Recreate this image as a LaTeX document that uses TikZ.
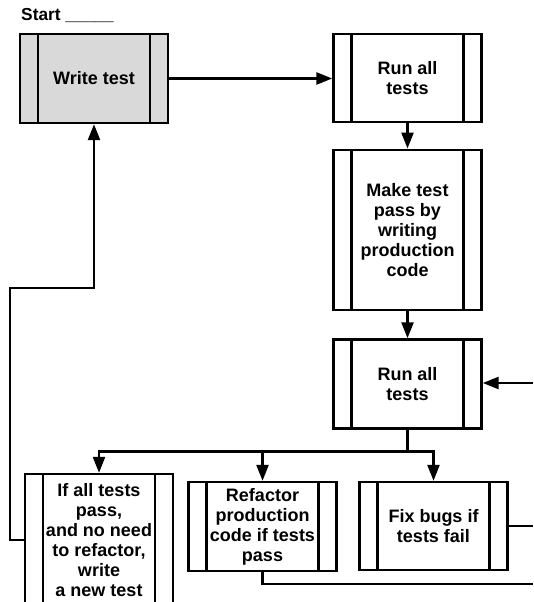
\documentclass[tikz,border=0pt]{standalone}
\usepackage{fontspec}
\setmainfont{Liberation Sans}
\usetikzlibrary{arrows.meta,positioning}

\begin{document}
\begin{tikzpicture}[x=0.75pt,y=-0.75pt,>={Triangle[length=12pt,width=9pt]},
                    line width=1.8pt]
  \tikzstyle{proc}=[draw=black,fill=white,align=center,minimum width=111pt,
                    inner sep=0pt,font=\bfseries\fontsize{13.5}{15}\selectfont,
                    path picture={
                      \draw[line width=1.8pt]
                        ([xshift=13.5pt]path picture bounding box.north west) --
                        ([xshift=13.5pt]path picture bounding box.south west)
                        ([xshift=-13.5pt]path picture bounding box.north east) --
                        ([xshift=-13.5pt]path picture bounding box.south east);}]

  \useasboundingbox (0,0) rectangle (533,602);
  \clip (0,0) rectangle (533,602);

  \node[anchor=west,inner sep=0pt,font=\bfseries\fontsize{13}{15}\selectfont]
                       (start)    at (20,16)        {Start \_\_\_\_\_};
  \node[proc,fill=gray!30,minimum height=66.75pt]
                       (write)    at (94,78.5)      {Write test};
  \node[proc,minimum height=66pt]
                       (run1)     at (407.5,78)     {Run all\\tests};
  \node[proc,minimum height=120pt]
                       (make)     [below=19pt of run1] {Make test\\pass by\\writing\\production\\code};
  \node[proc,minimum height=66.75pt]
                       (run2)     [below=20.5pt of make] {Run all\\tests};
  \node[proc,minimum height=99pt]
                       (allpass)  at (99,540)      {If all tests\\pass,\\and no need\\to refactor,\\write\\a new test};
  \node[proc,minimum height=66.75pt]
                       (refactor) at (262.5,526.5) {Refactor\\production\\code if tests\\pass};
  \node[proc,minimum height=66pt]
                       (fixbugs)  at (433.5,526)   {Fix bugs if\\tests fail};

  \coordinate (rin)    at (533,383);
  \coordinate (fixout) at (533,526);
  \coordinate (refout) at (533,584);
  \coordinate (loop)   at (10,288);

  \draw[->] (write) -- (write -| run1.west);
  \draw[->] (run1) -- (make);
  \draw[->] (make) -- (run2);
  \draw[->] (rin) -- (rin -| run2.east);
  \draw (run2.south) -- ++(0,22) coordinate (split);
  \draw[->] (split) -| (allpass.north);
  \draw[->] (split) -| (refactor.north);
  \draw[->] (split) -| (fixbugs.north);
  \draw (fixbugs.east) -- (fixout);
  \draw (refactor.south) |- (refout);
  \draw[->] (allpass.west) -| (loop) -| (write.south);
\end{tikzpicture}
\end{document}
